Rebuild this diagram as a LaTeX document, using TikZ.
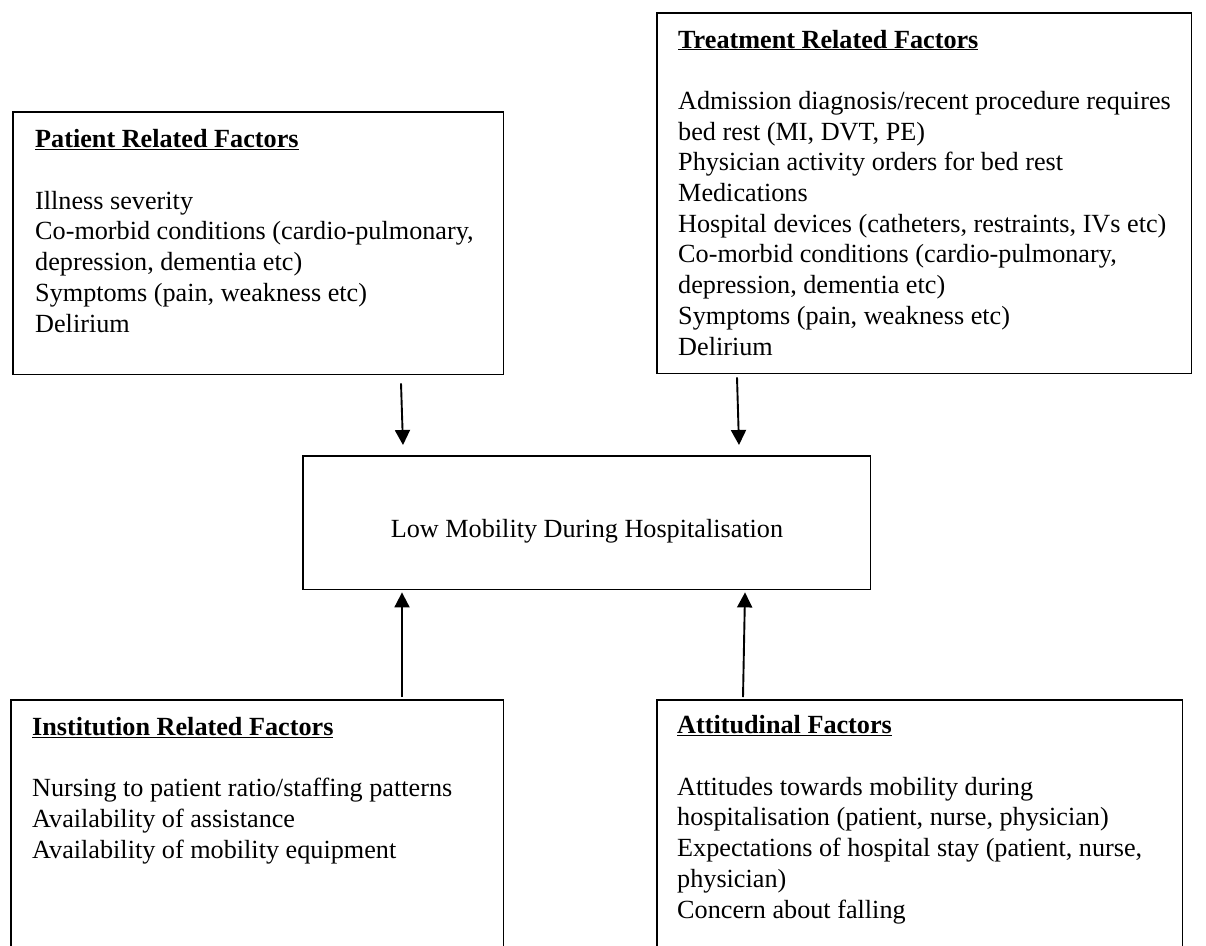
\documentclass[tikz,border=0pt]{standalone}
\usepackage{fontspec}
\setmainfont{Liberation Serif}
\usetikzlibrary{calc,arrows.meta}

\begin{document}
\begin{tikzpicture}[x=1pt,y=-1pt,
  box/.style={draw=none,rectangle,inner sep=0pt,anchor=north west},
  boxline/.style={line width=1.7pt,line join=miter},
  % multi-line texts are placed by the baseline of their last line
  boxtext/.style={anchor=base west,inner sep=0pt,align=left,
    font=\fontsize{26.2pt}{30.7pt}\selectfont},
  arr/.style={line width=1.9pt,-{Triangle[width=15pt,length=15pt]}}]
\useasboundingbox (0,0) rectangle (1206,945);

% factor boxes
\node[box,minimum width=490pt,minimum height=262pt] (pb) at (13,112) {};
\node[box,minimum width=534pt,minimum height=360pt] (tb) at (657,13) {};
\node[box,minimum width=567pt,minimum height=133pt] (cm) at (303,456) {};
\node[box,minimum width=492pt,minimum height=246pt] (ib) at (11,700) {};
\node[box,minimum width=525pt,minimum height=246pt] (ab) at (657,700) {};

\draw[boxline] (pb.north west) rectangle (pb.south east);
\draw[boxline] (tb.north west) rectangle (tb.south east);
\draw[boxline] (cm.north west) rectangle (cm.south east);
\draw[boxline] (ib.south west) -- (ib.north west) -- (ib.north east) -- (ib.south east);
\draw[boxline] (ab.south west) -- (ab.north west) -- (ab.north east) -- (ab.south east);

% box contents
\node[boxtext] (pt) at (35,332) {\textbf{\underline{Patient Related Factors}}\\[30.7pt]
  Illness severity\\
  Co-morbid conditions (cardio-pulmonary,\\
  depression, dementia etc)\\
  Symptoms (pain, weakness etc)\\
  Delirium};

\node[boxtext] (tt) at (678,355) {\textbf{\underline{Treatment Related Factors}}\\[30.7pt]
  Admission diagnosis/recent procedure requires\\
  bed rest (MI, DVT, PE)\\
  Physician activity orders for bed rest\\
  Medications\\
  Hospital devices (catheters, restraints, IVs etc)\\
  Co-morbid conditions (cardio-pulmonary,\\
  depression, dementia etc)\\
  Symptoms (pain, weakness etc)\\
  Delirium};

\node[boxtext,anchor=base] (ct) at (587,537) {Low Mobility During Hospitalisation};

\node[boxtext] (it) at (32,858) {\textbf{\underline{Institution Related Factors}}\\[30.7pt]
  Nursing to patient ratio/staffing patterns\\
  Availability of assistance\\
  Availability of mobility equipment};

\node[boxtext] (at) at (677,918) {\textbf{\underline{Attitudinal Factors}}\\[30.7pt]
  Attitudes towards mobility during\\
  hospitalisation (patient, nurse, physician)\\
  Expectations of hospital stay (patient, nurse,\\
  physician)\\
  Concern about falling};

% arrows into the central box
\draw[arr] ($(pb.south west)+(388,9)$) -- ($(cm.north west)+(100,-11)$);
\draw[arr] ($(tb.south west)+(80,4)$) -- ($(cm.north west)+(436,-11)$);
\draw[arr] ($(ib.north west)+(391,-3)$) -- ($(cm.south west)+(99,3)$);
\draw[arr] ($(ab.north west)+(86,-3)$) -- ($(cm.south west)+(442,3)$);
\end{tikzpicture}
\end{document}
